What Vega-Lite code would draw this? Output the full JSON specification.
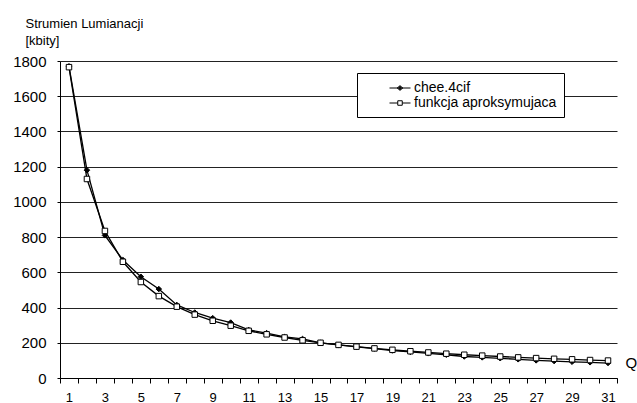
{
  "$schema": "https://vega.github.io/schema/vega-lite/v6.json",
  "width": 557,
  "height": 317,
  "padding": {"left": 60, "top": 61, "right": 20, "bottom": 25},
  "autosize": {"type": "none"},
  "background": "white",
  "config": {
    "font": "Liberation Sans",
    "view": {"stroke": null},
    "axis": {"labelColor": "black", "titleColor": "black", "labelFont": "Liberation Sans", "titleFont": "Liberation Sans", "titleFontWeight": "normal"},
    "legend": {"labelFont": "Liberation Sans", "labelColor": "black"}
  },
  "data": {
    "values": [
      {"Q": 1, "series": "chee.4cif", "value": 1770},
      {"Q": 2, "series": "chee.4cif", "value": 1180},
      {"Q": 3, "series": "chee.4cif", "value": 810},
      {"Q": 4, "series": "chee.4cif", "value": 670},
      {"Q": 5, "series": "chee.4cif", "value": 575},
      {"Q": 6, "series": "chee.4cif", "value": 505},
      {"Q": 7, "series": "chee.4cif", "value": 415},
      {"Q": 8, "series": "chee.4cif", "value": 372},
      {"Q": 9, "series": "chee.4cif", "value": 340},
      {"Q": 10, "series": "chee.4cif", "value": 315},
      {"Q": 11, "series": "chee.4cif", "value": 273},
      {"Q": 12, "series": "chee.4cif", "value": 255},
      {"Q": 13, "series": "chee.4cif", "value": 233},
      {"Q": 14, "series": "chee.4cif", "value": 222},
      {"Q": 15, "series": "chee.4cif", "value": 200},
      {"Q": 16, "series": "chee.4cif", "value": 188},
      {"Q": 17, "series": "chee.4cif", "value": 177},
      {"Q": 18, "series": "chee.4cif", "value": 167},
      {"Q": 19, "series": "chee.4cif", "value": 156},
      {"Q": 20, "series": "chee.4cif", "value": 148},
      {"Q": 21, "series": "chee.4cif", "value": 140},
      {"Q": 22, "series": "chee.4cif", "value": 132},
      {"Q": 23, "series": "chee.4cif", "value": 122},
      {"Q": 24, "series": "chee.4cif", "value": 117},
      {"Q": 25, "series": "chee.4cif", "value": 112},
      {"Q": 26, "series": "chee.4cif", "value": 106},
      {"Q": 27, "series": "chee.4cif", "value": 100},
      {"Q": 28, "series": "chee.4cif", "value": 96},
      {"Q": 29, "series": "chee.4cif", "value": 92},
      {"Q": 30, "series": "chee.4cif", "value": 89},
      {"Q": 31, "series": "chee.4cif", "value": 85},
      {"Q": 1, "series": "funkcja aproksymujaca", "value": 1765},
      {"Q": 2, "series": "funkcja aproksymujaca", "value": 1130},
      {"Q": 3, "series": "funkcja aproksymujaca", "value": 835},
      {"Q": 4, "series": "funkcja aproksymujaca", "value": 660},
      {"Q": 5, "series": "funkcja aproksymujaca", "value": 545},
      {"Q": 6, "series": "funkcja aproksymujaca", "value": 465},
      {"Q": 7, "series": "funkcja aproksymujaca", "value": 405},
      {"Q": 8, "series": "funkcja aproksymujaca", "value": 360},
      {"Q": 9, "series": "funkcja aproksymujaca", "value": 325},
      {"Q": 10, "series": "funkcja aproksymujaca", "value": 297},
      {"Q": 11, "series": "funkcja aproksymujaca", "value": 268},
      {"Q": 12, "series": "funkcja aproksymujaca", "value": 248},
      {"Q": 13, "series": "funkcja aproksymujaca", "value": 230},
      {"Q": 14, "series": "funkcja aproksymujaca", "value": 214},
      {"Q": 15, "series": "funkcja aproksymujaca", "value": 200},
      {"Q": 16, "series": "funkcja aproksymujaca", "value": 188},
      {"Q": 17, "series": "funkcja aproksymujaca", "value": 178},
      {"Q": 18, "series": "funkcja aproksymujaca", "value": 168},
      {"Q": 19, "series": "funkcja aproksymujaca", "value": 160},
      {"Q": 20, "series": "funkcja aproksymujaca", "value": 152},
      {"Q": 21, "series": "funkcja aproksymujaca", "value": 145},
      {"Q": 22, "series": "funkcja aproksymujaca", "value": 138},
      {"Q": 23, "series": "funkcja aproksymujaca", "value": 132},
      {"Q": 24, "series": "funkcja aproksymujaca", "value": 127},
      {"Q": 25, "series": "funkcja aproksymujaca", "value": 122},
      {"Q": 26, "series": "funkcja aproksymujaca", "value": 117},
      {"Q": 27, "series": "funkcja aproksymujaca", "value": 113},
      {"Q": 28, "series": "funkcja aproksymujaca", "value": 109},
      {"Q": 29, "series": "funkcja aproksymujaca", "value": 106},
      {"Q": 30, "series": "funkcja aproksymujaca", "value": 102},
      {"Q": 31, "series": "funkcja aproksymujaca", "value": 99}
    ]
  },
  "encoding": {
    "x": {
      "field": "Q",
      "type": "ordinal",
      "scale": {"type": "band", "paddingInner": 0, "paddingOuter": 0},
      "axis": {
        "tickBand": "extent",
        "labelAngle": 0,
        "labelExpr": "datum.value % 2 == 1 ? datum.label : ''",
        "labelFontSize": 13,
        "labelPadding": 8,
        "domainColor": "black",
        "tickColor": "black",
        "tickSize": 5,
        "title": "Q",
        "titleFontSize": 15,
        "titleX": 565,
        "titleY": -16,
        "titleAlign": "left",
        "titleBaseline": "middle",
        "titleAngle": 0
      }
    },
    "y": {
      "field": "value",
      "type": "quantitative",
      "scale": {"domain": [0, 1800], "nice": false},
      "axis": {
        "values": [0, 200, 400, 600, 800, 1000, 1200, 1400, 1600, 1800],
        "format": "d",
        "grid": true,
        "gridColor": "#222222",
        "gridWidth": 1,
        "domainColor": "black",
        "tickColor": "black",
        "tickSize": 3,
        "labelFontSize": 15,
        "labelPadding": 11,
        "title": ["Strumien Lumianacji", "[kbity]"],
        "titleFontSize": 13,
        "titleAngle": 0,
        "titleAlign": "left",
        "titleBaseline": "alphabetic",
        "titleX": -35,
        "titleY": -34,
        "titleLineHeight": 17
      }
    }
  },
  "resolve": {"scale": {"shape": "independent", "fill": "independent"}},
  "layer": [
    {
      "mark": {"type": "line", "color": "black", "strokeWidth": 1.3},
      "encoding": {"detail": {"field": "series"}}
    },
    {
      "mark": {"type": "point", "stroke": "black", "strokeWidth": 1, "opacity": 1},
      "encoding": {
        "shape": {
          "field": "series",
          "type": "nominal",
          "scale": {"range": ["diamond", "square"]},
          "legend": null
        },
        "fill": {
          "field": "series",
          "type": "nominal",
          "scale": {"range": ["black", "white"]},
          "legend": null
        },
        "size": {"value": 30}
      }
    },
    {
      "transform": [{"filter": "datum.Q > 100"}],
      "mark": {"type": "point", "filled": false, "stroke": "black", "strokeWidth": 1, "opacity": 1},
      "encoding": {
        "shape": {
          "field": "series",
          "type": "nominal",
          "scale": {
            "domain": ["chee.4cif", "funkcja aproksymujaca"],
            "range": ["M-1.4,0H1.4M-0.38,0L0,-0.3L0.38,0L0,0.3ZM-0.2,0L0,-0.15L0.2,0L0,0.15ZM0,-0.3V0.3", "M-1.4,0H-0.3M0.3,0H1.4M-0.3,-0.3H0.3V0.3H-0.3Z"]
          },
          "legend": {
            "title": null,
            "orient": "none",
            "legendX": 297,
            "legendY": 12,
            "fillColor": "white",
            "strokeColor": "black",
            "padding": 7,
            "symbolOffset": 28,
            "symbolSize": 225,
            "symbolStrokeColor": "black",
            "symbolStrokeWidth": 1,
            "symbolFillColor": "white",
            "labelFontSize": 14,
            "labelOffset": 6,
            "rowPadding": 0
          }
        },
        "size": {"value": 28}
      }
    }
  ]
}
